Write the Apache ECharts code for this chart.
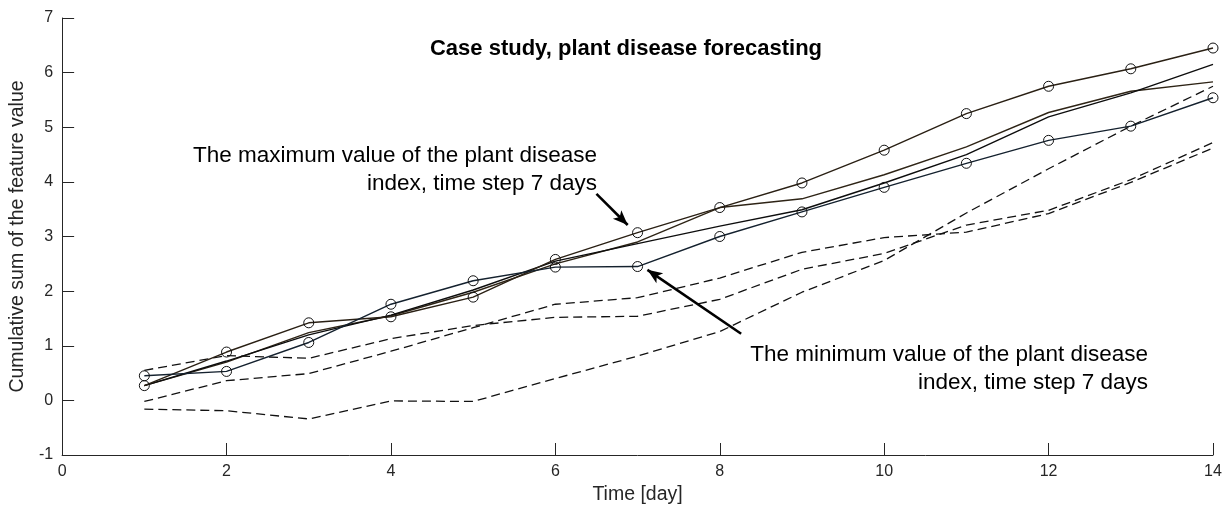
<!DOCTYPE html>
<html>
<head>
<meta charset="utf-8">
<script src="https://cdn.jsdelivr.net/npm/echarts@6/dist/echarts.min.js"></script>
<style>
  html, body { margin: 0; padding: 0; background: #fff; }
  #chart { width: 1226px; height: 510px; }
</style>
</head>
<body>
<div id="chart"></div>
<script>
// Time axis (days) and cumulative sums of the feature value
const days = [1, 2, 3, 4, 5, 6, 7, 8, 9, 10, 11, 12, 13, 14];

// solid series drawn with circle markers
const markedUpper = [0.27, 0.885, 1.42, 1.53, 1.89, 2.58, 3.07, 3.53, 3.98, 4.58, 5.25, 5.75, 6.07, 6.45];
const markedLower = [0.45, 0.53, 1.06, 1.76, 2.19, 2.44, 2.45, 3.00, 3.45, 3.90, 4.34, 4.76, 5.02, 5.54];

// solid series without markers
const solidA = [0.27, 0.70, 1.24, 1.55, 1.98, 2.50, 2.90, 3.53, 3.69, 4.13, 4.64, 5.27, 5.66, 5.83];
const solidB = [0.27, 0.72, 1.20, 1.56, 2.02, 2.55, 2.87, 3.19, 3.49, 3.98, 4.50, 5.19, 5.63, 6.15];

// dashed series
const dashedA = [0.55, 0.82, 0.77, 1.13, 1.37, 1.52, 1.54, 1.85, 2.40, 2.69, 3.21, 3.48, 4.04, 4.72];
const dashedB = [-0.02, 0.36, 0.49, 0.90, 1.33, 1.76, 1.88, 2.24, 2.71, 2.98, 3.08, 3.42, 3.99, 4.62];
const dashedC = [-0.16, -0.19, -0.34, -0.01, -0.02, 0.40, 0.81, 1.26, 1.98, 2.56, 3.43, 4.24, 5.02, 5.75];

// axis ranges / ticks
const xTicks = { min: 0, max: 14, interval: 2 };
const yTicks = { min: -1, max: 7, interval: 1 };

// annotation arrows in data coordinates: [tail, tip]
const arrowMax = [[6.50, 3.78], [6.88, 3.21]];
const arrowMin = [[8.26, 1.22], [7.12, 2.39]];

const chartTitle = 'Case study, plant disease forecasting';
const noteMax = 'The maximum value of the plant disease\nindex, time step 7 days';
const noteMin = 'The minimum value of the plant disease\nindex, time step 7 days';

const FONT = '"Liberation Sans", Arial, Helvetica, sans-serif';
const AXIS_COLOR = '#262626';

const pair = (ys) => days.map((d, i) => [d, ys[i]]);

function solidSeries(name, ys, color, marked) {
  return {
    name, type: 'line', data: pair(ys),
    symbol: marked ? 'circle' : 'none',
    symbolSize: 10,
    showSymbol: marked,
    itemStyle: { color: 'transparent', borderColor: '#111', borderWidth: 1 },
    lineStyle: { color, width: 1.4 },
    emphasis: { disabled: true },
    silent: true, z: 3
  };
}
function dashedSeries(name, ys) {
  return {
    name, type: 'line', data: pair(ys),
    symbol: 'none', showSymbol: false,
    lineStyle: { color: '#111', width: 1.3, type: [9, 5] },
    emphasis: { disabled: true },
    silent: true, z: 2
  };
}

const chart = echarts.init(document.getElementById('chart'), null, { renderer: 'canvas' });

chart.setOption({
  animation: false,
  backgroundColor: '#fff',
  textStyle: { fontFamily: FONT },
  grid: { left: 54, right: 13, top: 18, bottom: 52, containLabel: false },
  xAxis: {
    type: 'value', min: xTicks.min, max: xTicks.max, interval: xTicks.interval,
    name: 'Time [day]', nameLocation: 'middle', nameGap: 30,
    nameTextStyle: { color: AXIS_COLOR, fontSize: 19.5, fontFamily: FONT },
    axisLine: { onZero: false, lineStyle: { color: AXIS_COLOR, width: 1 } },
    axisTick: { inside: true, length: 12, lineStyle: { color: AXIS_COLOR } },
    axisLabel: { color: AXIS_COLOR, fontSize: 16, margin: 9, fontFamily: FONT },
    splitLine: { show: false }
  },
  yAxis: {
    type: 'value', min: yTicks.min, max: yTicks.max, interval: yTicks.interval,
    name: 'Cumulative sum of the feature value', nameLocation: 'middle', nameGap: 24,
    nameTextStyle: { color: AXIS_COLOR, fontSize: 19.5, fontFamily: FONT },
    axisLine: { show: true, onZero: false, lineStyle: { color: AXIS_COLOR, width: 1 } },
    axisTick: { show: true, inside: true, length: 12, lineStyle: { color: AXIS_COLOR } },
    axisLabel: { color: AXIS_COLOR, fontSize: 16, margin: 9, fontFamily: FONT },
    splitLine: { show: false }
  },
  series: [
    dashedSeries('dashedA', dashedA),
    dashedSeries('dashedB', dashedB),
    dashedSeries('dashedC', dashedC),
    solidSeries('solidA', solidA, '#2e2416', false),
    solidSeries('solidB', solidB, '#0d0d0d', false),
    solidSeries('markedUpper', markedUpper, '#2a2014', true),
    solidSeries('markedLower', markedLower, '#14212e', true),
    {
      name: 'notes', type: 'line', data: [], silent: true,
      markLine: {
        silent: true,
        animation: false,
        symbol: ['none', 'arrow'],
        symbolSize: [9, 15],
        label: { show: false },
        lineStyle: { color: '#000', width: 2.6, type: 'solid' },
        emphasis: { disabled: true },
        data: [
          [{ coord: arrowMax[0] }, { coord: arrowMax[1] }],
          [{ coord: arrowMin[0] }, { coord: arrowMin[1] }]
        ]
      }
    }
  ],
  graphic: [
    {
      type: 'text', x: 626, y: 49,
      style: { text: chartTitle, font: 'bold 22px ' + FONT, fill: '#000', textAlign: 'center', textVerticalAlign: 'middle' }
    },
    {
      type: 'text', x: 597, y: 142,
      style: { text: noteMax, font: '22.5px ' + FONT, fill: '#000', textAlign: 'right', lineHeight: 28 }
    },
    {
      type: 'text', x: 1148, y: 341,
      style: { text: noteMin, font: '22.5px ' + FONT, fill: '#000', textAlign: 'right', lineHeight: 28 }
    }
  ]
});
</script>
</body>
</html>
